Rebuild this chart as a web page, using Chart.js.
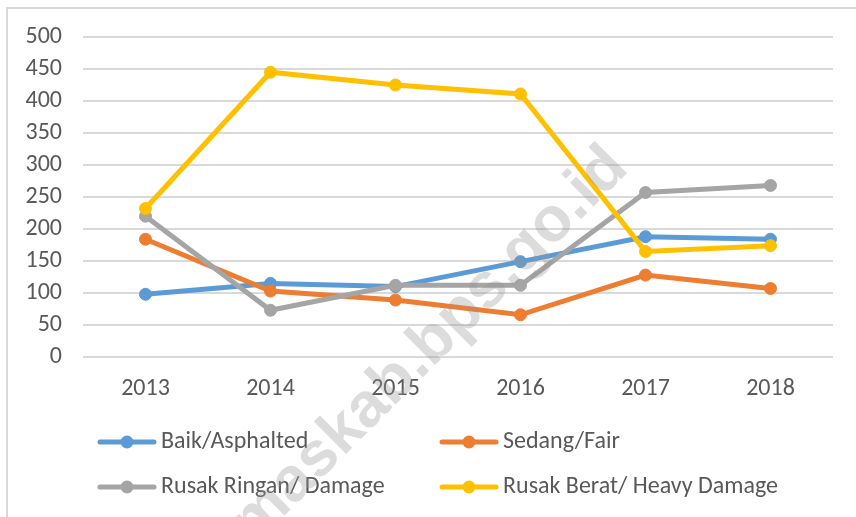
<!DOCTYPE html>
<html>
<head>
<meta charset="utf-8">
<script src="https://cdn.jsdelivr.net/npm/chart.js@4/dist/chart.umd.min.js"></script>
<style>
  html, body { margin: 0; padding: 0; background: #ffffff; }
  #wrap { position: relative; width: 856px; height: 517px; }
  canvas { display: block; }
</style>
</head>
<body>
<div id="wrap"><canvas id="c" width="856" height="517"></canvas></div>
<script>
const years = ['2013', '2014', '2015', '2016', '2017', '2018'];
const seriesNames = ['Baik/Asphalted', 'Sedang/Fair', 'Rusak Ringan/ Damage', 'Rusak Berat/ Heavy Damage'];
const baik   = [98, 115, 110, 149, 188, 184];
const sedang = [184, 103, 89, 66, 128, 107];
const ringan = [220, 73, 112, 112, 257, 268];
const berat  = [232, 445, 425, 411, 165, 174];
const seriesColors = ['#5B9BD5', '#ED7D31', '#A5A5A5', '#FFC000'];
const watermarkText = 'banyumaskab.bps.go.id';

const FONT = 'Calibri, Carlito, "Liberation Sans", Arial, sans-serif';
const TEXT_COLOR = '#595959';

const bgPlugin = {
  id: 'bg',
  beforeDraw(chart) {
    const ctx = chart.ctx;
    ctx.save();
    ctx.fillStyle = '#ffffff';
    ctx.fillRect(0, 0, chart.width, chart.height);
    ctx.strokeStyle = '#d9d9d9';
    ctx.lineWidth = 2;
    ctx.strokeRect(7, 8, 1000, 1000);
    ctx.restore();
  }
};

const legendPlugin = {
  id: 'customLegend',
  afterDraw(chart) {
    const ctx = chart.ctx;
    const cols = [100, 442];
    const rows = [442, 487];
    ctx.save();
    chart.data.datasets.forEach((ds, i) => {
      const x = cols[i % 2];
      const y = rows[Math.floor(i / 2)];
      ctx.strokeStyle = ds.borderColor;
      ctx.lineWidth = 5;
      ctx.lineCap = 'round';
      ctx.beginPath();
      ctx.moveTo(x, y);
      ctx.lineTo(x + 54, y);
      ctx.stroke();
      ctx.fillStyle = ds.borderColor;
      ctx.beginPath();
      ctx.arc(x + 27, y, 6.5, 0, Math.PI * 2);
      ctx.fill();
      ctx.fillStyle = TEXT_COLOR;
      ctx.font = '24px ' + FONT;
      ctx.textBaseline = 'middle';
      ctx.textAlign = 'left';
      ctx.fillText(ds.label, x + 61, y);
    });
    ctx.restore();
  }
};

const watermarkPlugin = {
  id: 'watermark',
  afterDraw(chart) {
    const ctx = chart.ctx;
    ctx.save();
    ctx.translate(630, 170);
    ctx.rotate(-45 * Math.PI / 180);
    ctx.font = 'bold 63px "Liberation Sans", Arial, sans-serif';
    ctx.fillStyle = 'rgba(150,150,150,0.33)';
    ctx.strokeStyle = 'rgba(150,150,150,0.33)';
    ctx.lineWidth = 3;
    ctx.lineJoin = 'round';
    ctx.textAlign = 'right';
    ctx.textBaseline = 'alphabetic';
    ctx.fillText(watermarkText, 0, 0);
    ctx.restore();
  }
};

const allSeries = [baik, sedang, ringan, berat];

new Chart(document.getElementById('c'), {
  type: 'line',
  data: {
    labels: years,
    datasets: allSeries.map((vals, i) => ({
      label: seriesNames[i],
      data: vals,
      borderColor: seriesColors[i],
      backgroundColor: seriesColors[i],
      pointBackgroundColor: seriesColors[i],
      pointBorderColor: seriesColors[i],
      borderWidth: 5,
      pointRadius: 6,
      pointBorderWidth: 1,
      tension: 0,
      fill: false,
      order: 3 - i
    }))
  },
  options: {
    responsive: false,
    animation: false,
    devicePixelRatio: 1,
    layout: { padding: { left: 0, right: 23, top: 37, bottom: 110 } },
    plugins: {
      legend: { display: false },
      tooltip: { enabled: false }
    },
    scales: {
      x: {
        offset: true,
        grid: { display: false, drawTicks: false },
        border: { display: false },
        ticks: { color: TEXT_COLOR, font: { family: FONT, size: 24 }, padding: 18, maxRotation: 0 },
        afterFit(scale) { scale.height = 50; }
      },
      y: {
        min: 0,
        max: 500,
        grid: { color: '#d9d9d9', lineWidth: 2, drawTicks: false },
        border: { display: false },
        ticks: { stepSize: 50, color: TEXT_COLOR, font: { family: FONT, size: 24 }, padding: 21 },
        afterFit(scale) { scale.width = 83; }
      }
    }
  },
  plugins: [bgPlugin, legendPlugin, watermarkPlugin]
});
</script>
</body>
</html>
